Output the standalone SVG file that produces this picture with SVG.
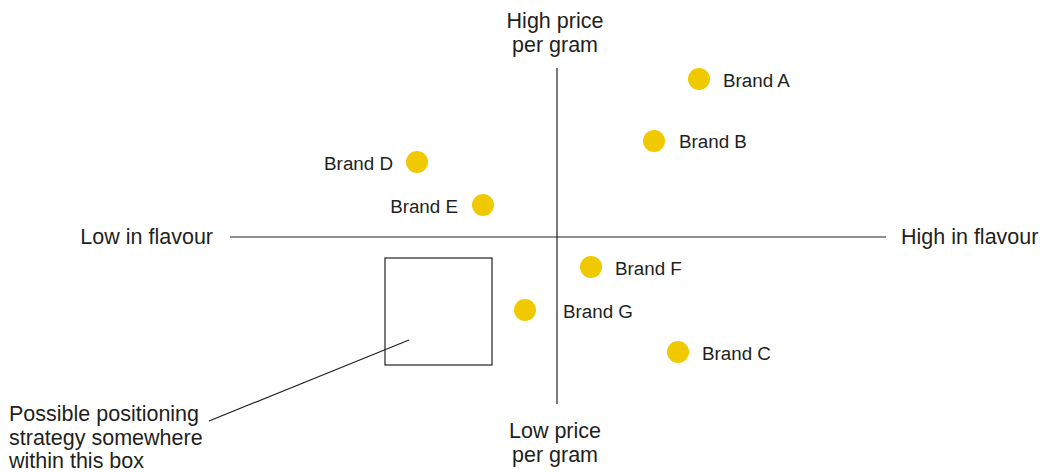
<svg xmlns="http://www.w3.org/2000/svg" width="1045" height="472" viewBox="0 0 1045 472">
<style>
text{font-family:"Liberation Sans",Arial,sans-serif;fill:#231f20}
.ax{font-size:21.5px}
.br{font-size:18.8px}
.dot{fill:#f1c900}
.ln{stroke:#231f20;stroke-width:1.2;fill:none}
</style>
<rect width="1045" height="472" fill="#fff"/>
<g id="connectors">
<line class="ln" x1="557" y1="68" x2="557" y2="404"/>
<line class="ln" x1="230" y1="237" x2="886" y2="237"/>
<line class="ln" x1="409" y1="340" x2="209" y2="421"/>
</g>
<g id="axis-top"><text class="ax" x="555" y="28" text-anchor="middle">High price</text><text class="ax" x="555" y="52" text-anchor="middle">per gram</text></g>
<g id="axis-bottom"><text class="ax" x="555" y="438" text-anchor="middle">Low price</text><text class="ax" x="555" y="462" text-anchor="middle">per gram</text></g>
<g id="axis-left"><text class="ax" x="213" y="244" text-anchor="end">Low in flavour</text></g>
<g id="axis-right"><text class="ax" x="901" y="244">High in flavour</text></g>
<g id="brand-a"><circle class="dot" cx="699" cy="79" r="11"/><text class="br" x="723" y="87">Brand A</text></g>
<g id="brand-b"><circle class="dot" cx="654" cy="141" r="11"/><text class="br" x="679" y="148">Brand B</text></g>
<g id="brand-c"><circle class="dot" cx="678" cy="352" r="11"/><text class="br" x="702" y="360">Brand C</text></g>
<g id="brand-d"><circle class="dot" cx="417" cy="162" r="11"/><text class="br" x="393" y="170" text-anchor="end">Brand D</text></g>
<g id="brand-e"><circle class="dot" cx="483" cy="205" r="11"/><text class="br" x="458" y="213" text-anchor="end">Brand E</text></g>
<g id="brand-f"><circle class="dot" cx="591" cy="267" r="11"/><text class="br" x="615" y="275">Brand F</text></g>
<g id="brand-g"><circle class="dot" cx="525" cy="310" r="11"/><text class="br" x="563" y="318">Brand G</text></g>
<g id="box"><rect class="ln" x="385" y="258" width="107" height="107"/></g>
<g id="note"><text class="ax" x="9" y="421">Possible positioning</text><text class="ax" x="9" y="445">strategy somewhere</text><text class="ax" x="9" y="468">within this box</text></g>
</svg>
